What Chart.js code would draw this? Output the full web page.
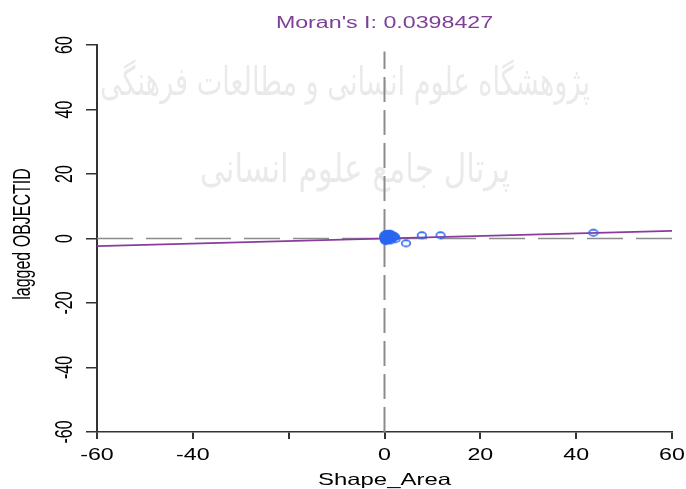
<!DOCTYPE html>
<html>
<head>
<meta charset="utf-8">
<script src="https://cdn.jsdelivr.net/npm/chart.js@4.4.1/dist/chart.umd.min.js"></script>
<style>
  html, body { margin: 0; padding: 0; background: #ffffff; }
  #wrap { width: 686px; height: 489px; }
</style>
</head>
<body>
<div id="wrap"><canvas id="c" width="686" height="489"></canvas></div>
<script>
// ---- data ----
const titleText = "Moran's I: 0.0398427";
const xAxisTitle = "Shape_Area";
const yAxisTitle = "lagged OBJECTID";
const xTickLabels = ['-60', '-40', '', '0', '20', '40', '60'];
const yTickLabels = ['-60', '-40', '-20', '0', '20', '40', '60'];
const tickValues = [-60, -40, -20, 0, 20, 40, 60];

const shapeArea = [0.0, 0.2, 0.5, 0.3, 0.8, 1.0, 1.5, 0.1, 0.6, 1.2, 0.4, 2.0, 0.9, 0.2, 1.8, 0.7,
                   1.5, 2.2, 0.3, 1.0, 2.3, 0.0, 1.3, -0.1, 4.5, 7.8, 11.7, 43.6];
const laggedId  = [0.0, 1.2, -0.5, 0.6, 1.0, -0.3, 0.4, -0.6, 0.2, 1.3, 1.4, 0.8, -0.5, 0.3, 0.2, 0.9,
                   1.2, 0.5, -0.8, 1.5, -0.2, 1.0, -0.6, 0.4, -1.5, 1.0, 1.0, 1.8];

const fitX = [-60, 60];
const fitY = [-2.39, 2.39];
const meanHX = [-60, 60];
const meanHY = [0, 0];
const meanVX = [0, 0];
const meanVY = [-60, 58];

const watermarkLines = ["پژوهشگاه علوم انسانی و مطالعات فرهنگی", "پرتال جامع علوم انسانی"];

const toXY = (xs, ys) => xs.map((x, i) => ({ x: x, y: ys[i] }));

const FONT = "'Liberation Sans', Arial, sans-serif";
const SX = 1.45; // horizontal stretch of the reference rendering

// open ellipse marker (reference markers are stretched horizontally)
const marker = (function () {
  const c = document.createElement('canvas');
  c.width = 12; c.height = 10;
  const g = c.getContext('2d');
  g.strokeStyle = '#2a66f0';
  g.lineWidth = 1.6;
  g.beginPath();
  g.ellipse(6, 5, 4.3, 3.1, 0, 0, Math.PI * 2);
  g.stroke();
  return c;
})();

function stretchedText(ctx, text, x, y, align, baseline) {
  ctx.save();
  ctx.translate(x, y);
  ctx.scale(SX, 1);
  ctx.textAlign = align;
  ctx.textBaseline = baseline;
  ctx.fillText(text, 0, 0);
  ctx.restore();
}
function rotatedText(ctx, text, x, y) {
  ctx.save();
  ctx.translate(x, y);
  ctx.scale(SX, 1);
  ctx.rotate(-Math.PI / 2);
  ctx.textAlign = 'center';
  ctx.textBaseline = 'alphabetic';
  ctx.fillText(text, 0, 0);
  ctx.restore();
}

const watermarkPlugin = {
  id: 'watermark',
  beforeDatasetsDraw(chart) {
    const ctx = chart.ctx;
    ctx.save();
    ctx.fillStyle = 'rgba(190,190,190,0.33)';
    ctx.textAlign = 'center';
    ctx.textBaseline = 'middle';
    ctx.font = "40px 'DejaVu Sans', sans-serif";
    ctx.fillText(watermarkLines[0], 345, 85, 490);
    ctx.fillText(watermarkLines[1], 355, 172, 310);
    ctx.restore();
  }
};

const textPlugin = {
  id: 'texts',
  afterDraw(chart) {
    const ctx = chart.ctx;
    const a = chart.chartArea;
    const xs = chart.scales.x;
    const ys = chart.scales.y;
    const cx = (a.left + a.right) / 2;
    ctx.save();
    // title
    ctx.fillStyle = '#7f3f98';
    ctx.font = '16px ' + FONT;
    stretchedText(ctx, titleText, cx, 28, 'center', 'alphabetic');
    // x tick labels
    ctx.fillStyle = '#000';
    ctx.font = '16px ' + FONT;
    tickValues.forEach((v, i) => {
      if (xTickLabels[i]) stretchedText(ctx, xTickLabels[i], xs.getPixelForValue(v), 460, 'center', 'alphabetic');
    });
    // x axis title
    ctx.font = '16.5px ' + FONT;
    stretchedText(ctx, xAxisTitle, cx, 485, 'center', 'alphabetic');
    // y tick labels (rotated)
    ctx.font = '16px ' + FONT;
    tickValues.forEach((v, i) => {
      rotatedText(ctx, yTickLabels[i], 72, ys.getPixelForValue(v));
    });
    // y axis title
    ctx.font = '16px ' + FONT;
    rotatedText(ctx, yAxisTitle, 30, 234);
    ctx.restore();
  }
};

new Chart(document.getElementById('c'), {
  type: 'scatter',
  data: {
    datasets: [
      {
        label: 'points',
        data: toXY(shapeArea, laggedId),
        showLine: false,
        pointStyle: marker,
        pointRadius: 4,
        borderColor: '#2a66f0'
      },
      {
        label: 'fit',
        data: toXY(fitX, fitY),
        showLine: true,
        borderColor: '#8a3c9c',
        borderWidth: 1.8,
        pointRadius: 0
      },
      {
        label: 'meanH',
        data: toXY(meanHX, meanHY),
        showLine: true,
        borderColor: '#8c8c8c',
        borderWidth: 1.6,
        borderDash: [36, 13],
        pointRadius: 0
      },
      {
        label: 'meanV',
        data: toXY(meanVX, meanVY),
        showLine: true,
        borderColor: '#8c8c8c',
        borderWidth: 2,
        borderDash: [25, 8],
        pointRadius: 0
      }
    ]
  },
  options: {
    responsive: false,
    animation: false,
    layout: { padding: { top: 45, right: 14, left: 0, bottom: 0 } },
    plugins: {
      legend: { display: false },
      tooltip: { enabled: false },
      title: { display: false }
    },
    scales: {
      x: {
        type: 'linear',
        min: -60, max: 60,
        afterBuildTicks(scale) { scale.ticks = tickValues.map(v => ({ value: v })); },
        afterFit(scale) { scale.height = 57; },
        ticks: { display: false, autoSkip: false },
        grid: { drawOnChartArea: false, tickLength: 7, color: '#333', lineWidth: 2 },
        border: { color: '#333', width: 1.6 }
      },
      y: {
        type: 'linear',
        min: -60, max: 60,
        afterBuildTicks(scale) { scale.ticks = tickValues.map(v => ({ value: v })); },
        afterFit(scale) { scale.width = 97; },
        ticks: { display: false, autoSkip: false },
        grid: { drawOnChartArea: false, tickLength: 11, color: '#333', lineWidth: 1.5 },
        border: { color: '#333', width: 2 }
      }
    }
  },
  plugins: [watermarkPlugin, textPlugin]
});
</script>
</body>
</html>
